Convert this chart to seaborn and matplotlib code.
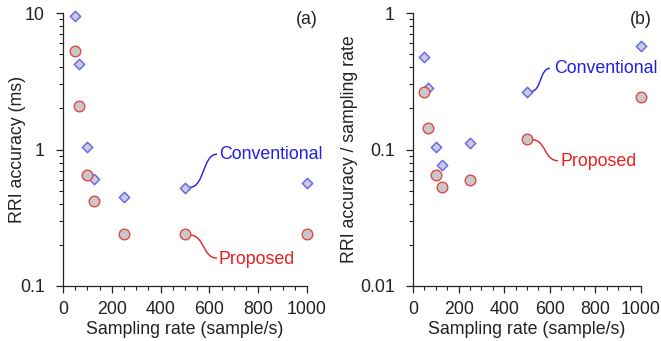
import numpy as np
import pandas as pd
import matplotlib
matplotlib.use("Agg")
import matplotlib.pyplot as plt
import matplotlib.ticker as mticker
import matplotlib.transforms as mtransforms
from matplotlib.path import Path
from matplotlib.patches import PathPatch
import seaborn as sns

# ---- data ----
sampling_rate = [50, 64, 100, 125, 250, 500, 1000]
acc_conventional = [9.5, 4.2, 1.05, 0.61, 0.45, 0.52, 0.57]
acc_proposed = [5.3, 2.1, 0.65, 0.42, 0.24, 0.24, 0.24]
ratio_conventional = [0.475, 0.284, 0.104, 0.077, 0.112, 0.262, 0.572]
ratio_proposed = [0.265, 0.143, 0.0655, 0.053, 0.060, 0.120, 0.241]
panel_labels = ["(a)", "(b)"]
ylabels = ["RRI accuracy (ms)", "RRI accuracy / sampling rate"]
xlabel = "Sampling rate (sample/s)"
series_names = ["Conventional", "Proposed"]

sns.set_theme(style="ticks")
plt.rcParams["font.family"] = ["Liberation Sans", "DejaVu Sans"]
FS = 12.8
plt.rcParams["font.size"] = FS

TXT = "#222222"
BLUE_EDGE = "#6262ee"
BLUE_FILL = "#cacada"
RED_EDGE = "#e04848"
RED_FILL = "#c8c8c8"
BLUE_TXT = "#1f1fe6"
RED_TXT = "#e61f1f"

fig = plt.figure(figsize=(6.61, 3.41), dpi=100)
axA = fig.add_axes([63/661, 1-286/341, 244/661, 273/341])
axB = fig.add_axes([413/661, 1-286/341, 228/661, 273/341])

panels = [
    (axA, acc_conventional, acc_proposed, (0.1, 10), [0.1, 1, 10], -0.152),
    (axB, ratio_conventional, ratio_proposed, (0.01, 1), [0.01, 0.1, 1], -0.241),
]


def s_curve(ax, x, y, start, end, color):
    (x0, y0), (x1, y1) = start, end
    mx = (x0 + x1) / 2.0
    verts = [(x0, y0), (mx + 1, y0), (mx - 1, y1), (x1, y1)]
    codes = [Path.MOVETO, Path.CURVE4, Path.CURVE4, Path.CURVE4]
    trans = mtransforms.ScaledTranslation(x, y, ax.transData)
    patch = PathPatch(Path(verts, codes), facecolor="none", edgecolor=color,
                      lw=1.0, transform=mtransforms.IdentityTransform() + trans,
                      clip_on=False)
    ax.add_artist(patch)


annot = {
    0: dict(conv=((5, 1), (32, 34), (34, 34)), prop=((5, -1), (32, -24), (34, -25))),
    1: dict(conv=((4, 1), (23, 24), (27, 24)), prop=((5, -1), (31, -22), (33, -23))),
}

for i, (ax, conv, prop, ylim, majors, ylab_x) in enumerate(panels):
    df = pd.DataFrame({"rate": sampling_rate * 2,
                       "val": list(conv) + list(prop),
                       "series": [series_names[0]] * len(conv) + [series_names[1]] * len(prop)})
    sns.scatterplot(data=df[df.series == "Conventional"], x="rate", y="val", ax=ax,
                    marker="D", s=28, color=BLUE_FILL, edgecolor=BLUE_EDGE,
                    linewidth=1.0, clip_on=False, zorder=3, legend=False)
    sns.scatterplot(data=df[df.series == "Proposed"], x="rate", y="val", ax=ax,
                    marker="o", s=58, color=RED_FILL, edgecolor=RED_EDGE,
                    linewidth=1.0, clip_on=False, zorder=3, legend=False)
    ax.set_yscale("log")
    ax.set_xlim(0, 1000)
    ax.set_ylim(*ylim)
    ax.xaxis.set_major_locator(mticker.MultipleLocator(200))
    ax.xaxis.set_minor_locator(mticker.MultipleLocator(50))
    ax.yaxis.set_major_locator(mticker.FixedLocator(majors))
    ax.yaxis.set_major_formatter(mticker.FuncFormatter(lambda v, p: f"{v:g}"))
    ax.yaxis.set_minor_locator(mticker.LogLocator(base=10, subs=np.arange(2, 10)))
    ax.yaxis.set_minor_formatter(mticker.NullFormatter())
    for side in ["top", "right"]:
        ax.spines[side].set_visible(False)
    for side in ["left", "bottom"]:
        ax.spines[side].set_color(TXT)
        ax.spines[side].set_linewidth(0.9)
    ax.tick_params(which="major", direction="out", length=5, width=0.9,
                   colors=TXT, labelsize=FS)
    ax.tick_params(axis="x", which="major", pad=6)
    ax.tick_params(axis="y", which="major", pad=8)
    ax.tick_params(which="minor", direction="out", length=3, width=0.8, colors=TXT)
    ax.set_xlabel(xlabel, fontsize=FS, color=TXT, labelpad=2)
    ax.set_ylabel(ylabels[i], fontsize=FS, color=TXT)
    ax.yaxis.set_label_coords(ylab_x, 0.5)
    ax.text(1.045, 0.975, panel_labels[i], transform=ax.transAxes, ha="right",
            va="center", fontsize=FS, color=TXT)

    # annotations at the 500 sample/s points
    idx = sampling_rate.index(500)
    fig.canvas.draw()
    for key, yv, col, name in [("conv", conv[idx], BLUE_TXT, series_names[0]),
                               ("prop", prop[idx], RED_TXT, series_names[1])]:
        st, en, tx = annot[i][key]
        s_curve(ax, 500, yv, st, en, col)
        ax.annotate(name, xy=(500, yv), xytext=tx, textcoords="offset pixels",
                    ha="left", va="center", color=col, fontsize=FS,
                    annotation_clip=False)

fig.savefig("out.png", dpi=100)
